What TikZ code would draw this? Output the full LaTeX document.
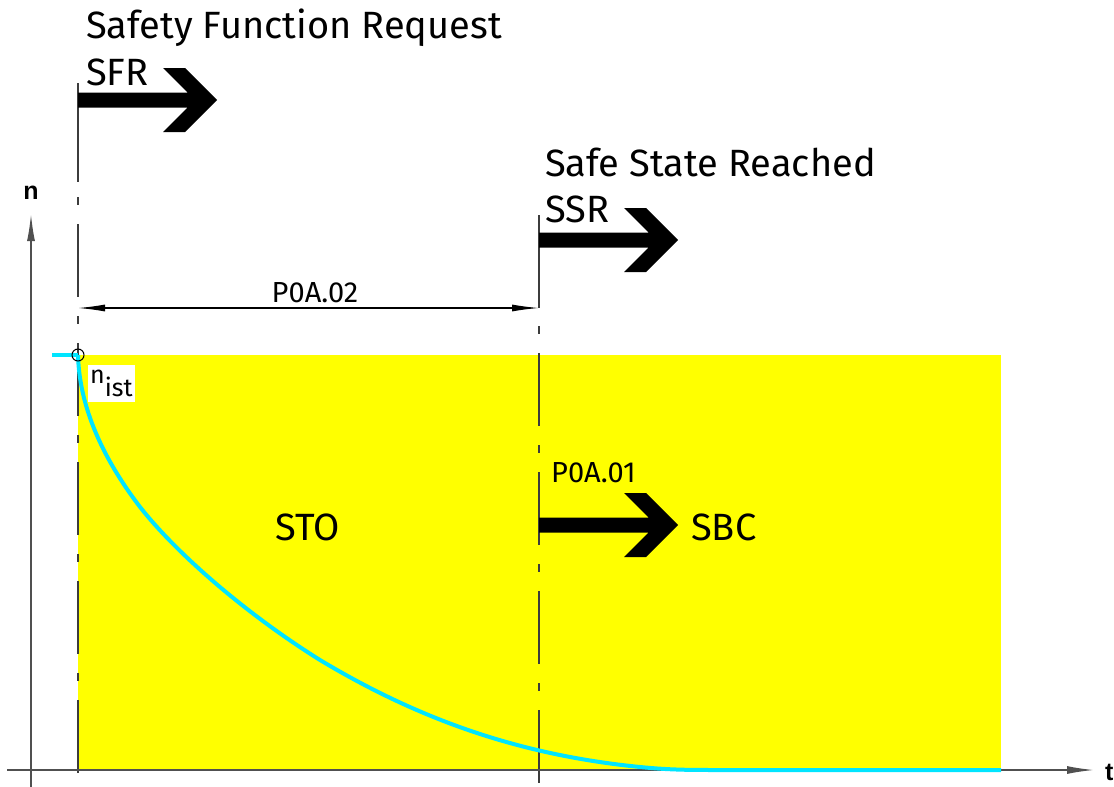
\documentclass[tikz,border=0pt]{standalone}
\usepackage{fontspec}
\setmainfont{Fira Sans}
\newfontfamily\axfont{Liberation Sans}
\usetikzlibrary{arrows.meta}
\definecolor{ylw}{RGB}{255,255,0}
\definecolor{cyn}{RGB}{0,229,255}
\definecolor{axgray}{RGB}{80,80,80}
\definecolor{cgray}{RGB}{60,60,60}
\begin{document}
\begin{tikzpicture}[x=1pt,y=-1pt,
  bigtext/.style={inner sep=0pt,anchor=base west,font=\fontsize{38}{44}\selectfont},
  midtext/.style={inner sep=0pt,anchor=base west,font=\fontsize{29}{34}\selectfont},
  axlabel/.style={inner sep=0pt,font=\axfont\bfseries\fontsize{25}{28}\selectfont},
  centerline/.style={draw=cgray,line width=1.2pt,dash pattern=on 8pt off 19pt on 73pt off 19pt},
  solidline/.style={draw=cgray,line width=1.2pt},
  axis/.style={draw=axgray,line width=1.5pt,-{Latex[length=27pt,width=8pt]}},
  dimline/.style={draw=black,line width=1.2pt,{Latex[length=27pt,width=7pt]}-{Latex[length=27pt,width=7pt]}},
  speed/.style={draw=cyn,line width=4pt},
  fatarrow/.pic={\fill[black] (0,-7.5) -- (109.5,-7.5) -- (85,-32) -- (107,-32) -- (139,0) -- (107,32) -- (85,32) -- (109.5,7.5) -- (0,7.5) -- cycle;}
]
\useasboundingbox (0,0) rectangle (1114,787);
% yellow region
\fill[ylw] (78,355) rectangle (1001,770);
% center lines
\draw[solidline] (78,83) -- (78,182);
\draw[centerline] (78,197) -- (78,785);
\draw[solidline] (539,215) -- (539,308);
\draw[centerline] (539,326) -- (539,785);
% axes
\coordinate (t0) at (7,770);
\coordinate (t1) at (1094,770);
\coordinate (n0) at (31,787);
\coordinate (n1) at (31,214);
\draw[axis] (t0) -- (t1);
\draw[axis] (n0) -- (n1);
\node[axlabel,anchor=base] (nlab) at (31,199) {n};
\node[axlabel,anchor=base west] (tlab) at (1105,780) {t};
% dimension
\coordinate (d1) at (78,308);
\coordinate (d2) at (539,308);
\draw[dimline] (d1) -- (d2);
\node[midtext,anchor=base] (p02) at (315,302) {P0A.02};
% speed curve
\draw[speed] (52,355) -- (78,355);
\draw[speed] (78,355) .. controls (79,390) and (90,440) .. (137,503)
  .. controls (170,547) and (240,610) .. (320,660)
  .. controls (420,720) and (520,755) .. (640,767)
  .. controls (670,770) and (690,770) .. (720,770) -- (1001,770);
\node[draw=black,line width=1pt,circle,minimum size=12pt,inner sep=0pt] (ncirc) at (78,355) {};
% n_ist label
\fill[white] (88,365) rectangle (135,402);
\node[inner sep=0pt,anchor=base west,font=\fontsize{25}{28}\selectfont] (nist) at (90,383) {n\raisebox{-13pt}{ist}};
% texts
\node[bigtext] (sfrt) at (86,38) {Safety Function Request};
\node[bigtext] (sfr) at (86,85) {SFR};
\node[bigtext] (ssrt) at (545,176) {Safe State Reached};
\node[bigtext] (ssr) at (545,222) {SSR};
\node[midtext] (p01) at (551,482) {P0A.01};
\node[bigtext] (sto) at (275,540) {STO};
\node[bigtext] (sbc) at (691,540) {SBC};
% fat arrows
\pic at (78,100) {fatarrow};
\pic at (539,240) {fatarrow};
\pic at (539,525) {fatarrow};
\end{tikzpicture}
\end{document}
